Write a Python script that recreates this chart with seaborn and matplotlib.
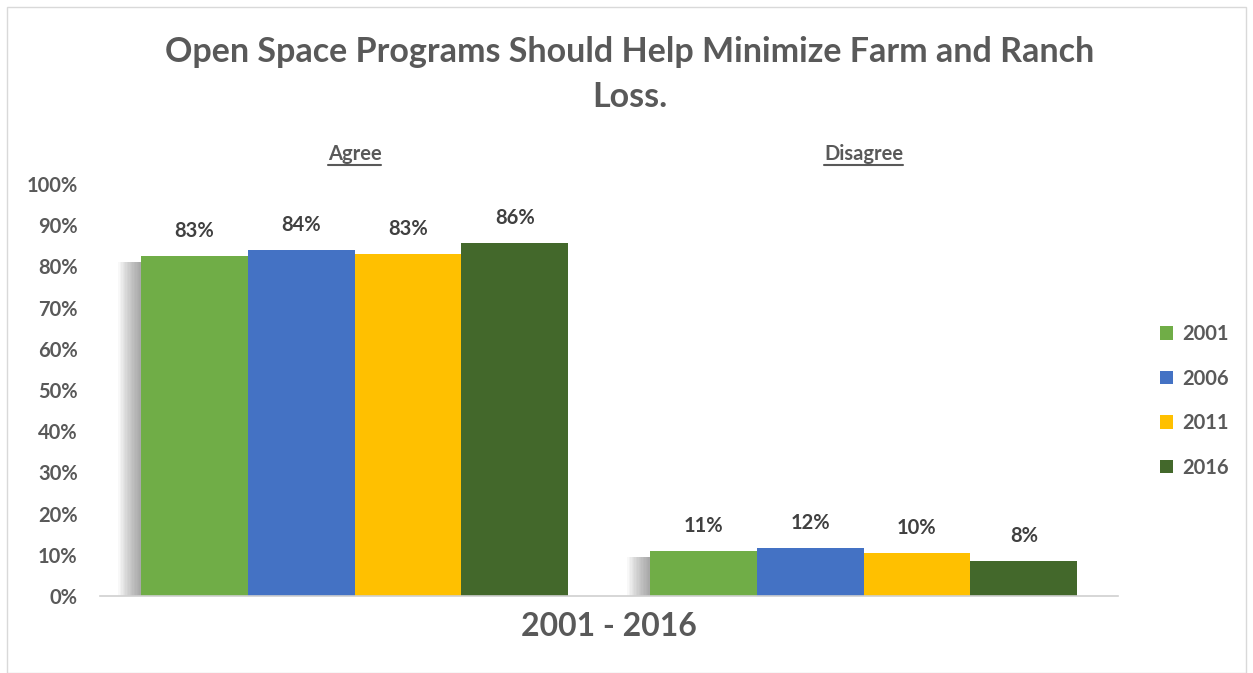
import matplotlib
matplotlib.use("Agg")
import matplotlib.pyplot as plt
import matplotlib.patheffects as pe
from matplotlib.lines import Line2D
from matplotlib.patches import Rectangle
import seaborn as sns
import pandas as pd

categories = ["Agree", "Disagree"]
years = ["2001", "2006", "2011", "2016"]
values_2001 = [82.5, 10.9]
values_2006 = [84.0, 11.6]
values_2011 = [83.0, 10.4]
values_2016 = [85.7, 8.5]
labels_2001 = ["83%", "11%"]
labels_2006 = ["84%", "12%"]
labels_2011 = ["83%", "10%"]
labels_2016 = ["86%", "8%"]
colors = ["#70AD47", "#4472C4", "#FFC000", "#43682B"]
yticks = [0, 10, 20, 30, 40, 50, 60, 70, 80, 90, 100]

sns.set_theme(style="white")
plt.rcParams['font.family'] = ['Lato', 'DejaVu Sans']
TXT = "#595959"

rows = []
for y, vals in zip(years, [values_2001, values_2006, values_2011, values_2016]):
    for c, v in zip(categories, vals):
        rows.append({"cat": c, "year": y, "val": v})
df = pd.DataFrame(rows)
all_labels = [labels_2001, labels_2006, labels_2011, labels_2016]

fig = plt.figure(figsize=(12.53, 6.73), dpi=100)
ax = fig.add_axes([100/1253, 1-596/673, (1118-100)/1253, (596-184)/673])
sns.barplot(data=df, x="cat", y="val", hue="year", palette=colors, width=0.84,
            saturation=1, ax=ax, edgecolor="none", linewidth=0, legend=True)

# soft shadow on first bars of each group
effects = []
for k in range(16, 0, -1):
    effects.append(pe.SimplePatchShadow(offset=(-k, -4), shadow_rgbFace="#606060", alpha=0.045))
effects.append(pe.Normal())
for bar in ax.containers[0]:
    bar.set_path_effects(effects)

for cont, labs in zip(ax.containers, all_labels):
    ax.bar_label(cont, labels=labs, padding=11, fontsize=14.5, fontweight="bold", color="#404040")

ax.set_ylim(0, 100)
ax.set_xlim(-0.5, 1.5)
ax.set_yticks(yticks)
ax.set_yticklabels([f"{t}%" for t in yticks], fontsize=14.5, fontweight="bold", color=TXT)
ax.tick_params(axis="y", length=0, pad=16)
ax.tick_params(axis="x", length=0)
ax.set_xticklabels([])
ax.set_xlabel("2001 - 2016", fontsize=23, fontweight="bold", color=TXT, labelpad=8)
ax.set_ylabel("")
for s in ["top", "right", "left"]:
    ax.spines[s].set_visible(False)
ax.spines["bottom"].set_color("#d0d0d0")
ax.spines["bottom"].set_linewidth(1.2)

# category labels with underline
fig.canvas.draw()
renderer = fig.canvas.get_renderer()
for i, c in enumerate(categories):
    t = ax.text(i, 1.0 + 30/412, c, transform=ax.get_xaxis_transform(), ha="center",
                va="center", fontsize=14.5, fontweight="bold", color=TXT)
    fig.canvas.draw()
    bb = t.get_window_extent(renderer).transformed(fig.transFigure.inverted())
    fig.add_artist(Line2D([bb.x0, bb.x1], [bb.y0 - 0.001, bb.y0 - 0.001], color=TXT,
                          lw=1.5, transform=fig.transFigure))

leg = ax.legend(loc="upper left", bbox_to_anchor=(1160/1253, 1-324/673),
                bbox_transform=fig.transFigure, frameon=False, borderpad=0, borderaxespad=0,
                handlelength=0.65, handleheight=0.65, handletextpad=0.45, labelspacing=1.22,
                prop={"size": 14.5, "weight": "bold", "family": "Lato"})
for txt in leg.get_texts():
    txt.set_color(TXT)

fig.text(630/1253, 1-52/673, "Open Space Programs Should Help Minimize Farm and Ranch",
         ha="center", va="center", fontsize=24.5, fontweight="bold", color=TXT)
fig.text(630/1253, 1-97/673, "Loss.", ha="center", va="center", fontsize=24.5,
         fontweight="bold", color=TXT)

fig.add_artist(Rectangle((7/1253, 0), 1 - 14/1253, 1 - 7/673, transform=fig.transFigure,
                         fill=False, edgecolor="#d9d9d9", lw=1))
fig.savefig("out.png", dpi=100, facecolor="white")
